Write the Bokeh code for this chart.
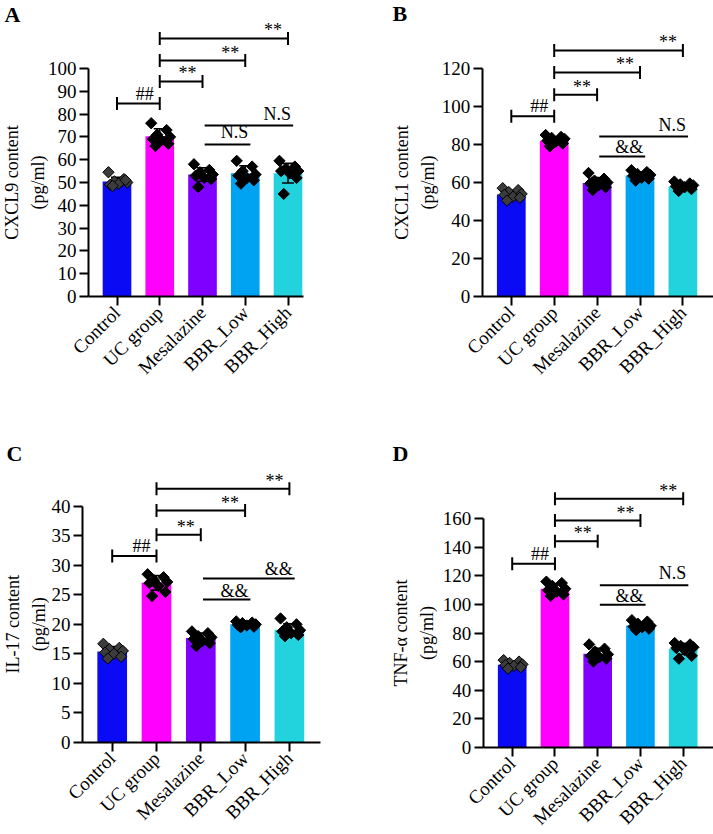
import numpy as np
from math import pi
from bokeh.plotting import figure
from bokeh.layouts import column, row
from bokeh.models import Range1d, FixedTicker, LinearAxis, Label, ColumnDataSource
from bokeh.embed import file_html
from bokeh.resources import INLINE
from bokeh.core.properties import value

# ---------------- data ----------------
categories = ["Control", "UC group", "Mesalazine", "BBR_Low", "BBR_High"]
bar_colors = ["#0A0AF5", "#FF00FF", "#7F00FF", "#00A2F2", "#22D3DE"]

# Panel A: CXCL9
cxcl9_means = [50.4, 70.3, 53.5, 54.1, 54.1]
cxcl9_points = [
    [54.5, 51.5, 50.5, 50.0, 49.0, 49.5, 51.0, 48.5],
    [76.0, 73.0, 71.0, 70.0, 69.0, 68.5, 67.0, 66.0],
    [58.0, 55.5, 54.5, 53.5, 53.0, 52.0, 51.5, 48.0],
    [59.5, 57.0, 55.0, 53.5, 53.0, 52.0, 51.0, 49.5],
    [59.5, 57.0, 56.0, 55.0, 55.0, 54.0, 52.0, 45.0],
]
cxcl9_ticks = [0, 10, 20, 30, 40, 50, 60, 70, 80, 90, 100]
cxcl9_sig = [(1, 4, 113.2, "**", "cap"), (1, 3, 103.5, "**", "cap"), (1, 2, 94.3, "**", "cap"),
             (0, 1, 84.6, "##", "cap"), (2, 4, 75.0, "N.S", "line"), (2, 3, 66.7, "N.S", "line")]

# Panel B: CXCL1
cxcl1_means = [53.7, 82.0, 59.8, 63.7, 57.9]
cxcl1_points = [
    [57.0, 56.0, 55.0, 54.0, 53.5, 52.5, 52.0, 50.5],
    [85.0, 84.0, 83.5, 83.0, 82.0, 81.5, 80.5, 79.0],
    [65.0, 62.0, 61.0, 60.0, 59.5, 58.5, 57.5, 56.0],
    [66.5, 65.5, 64.5, 64.0, 63.5, 62.5, 62.0, 61.0],
    [60.5, 59.5, 59.0, 58.5, 58.0, 57.5, 56.5, 55.5],
]
cxcl1_ticks = [0, 20, 40, 60, 80, 100, 120]
cxcl1_sig = [(1, 4, 129.5, "**", "cap"), (1, 3, 117.9, "**", "cap"), (1, 2, 106.2, "**", "cap"),
             (0, 1, 94.9, "##", "cap"), (2, 4, 84.2, "N.S", "line"), (2, 3, 73.7, "&&", "line")]

# Panel C: IL-17
il17_means = [15.4, 27.05, 17.7, 20.0, 19.1]
il17_points = [
    [16.7, 16.0, 15.8, 15.5, 15.2, 15.0, 14.5, 14.2],
    [28.5, 28.0, 27.5, 27.2, 27.0, 26.5, 25.5, 24.8],
    [18.8, 18.5, 18.0, 17.8, 17.5, 17.2, 16.8, 16.3],
    [20.5, 20.3, 20.2, 20.0, 19.9, 19.8, 19.6, 19.5],
    [21.0, 20.0, 19.5, 19.0, 18.8, 18.5, 18.2, 18.0],
]
il17_ticks = [0, 5, 10, 15, 20, 25, 30, 35, 40]
il17_sig = [(1, 4, 43.0, "**", "cap"), (1, 3, 39.3, "**", "cap"), (1, 2, 35.2, "**", "cap"),
            (0, 1, 31.6, "##", "cap"), (2, 4, 27.8, "&&", "line"), (2, 3, 24.2, "&&", "line")]

# Panel D: TNF-alpha
tnf_means = [57.7, 111.0, 65.4, 85.3, 68.9]
tnf_points = [
    [61.0, 60.0, 59.0, 58.0, 57.5, 57.0, 56.0, 55.0],
    [116.0, 115.0, 113.0, 111.0, 110.0, 109.0, 107.0, 106.0],
    [72.0, 69.0, 67.0, 65.0, 64.0, 63.0, 62.0, 60.0],
    [89.0, 88.0, 86.5, 85.0, 84.5, 84.0, 83.0, 82.0],
    [73.0, 72.0, 71.0, 70.0, 69.5, 68.0, 64.0, 62.0],
]
tnf_ticks = [0, 20, 40, 60, 80, 100, 120, 140, 160]
tnf_sig = [(1, 4, 174.0, "**", "cap"), (1, 3, 158.8, "**", "cap"), (1, 2, 144.3, "**", "cap"),
           (0, 1, 128.5, "##", "cap"), (2, 4, 113.5, "N.S", "line"), (2, 3, 99.75, "&&", "line")]

# ---------------- style / layout constants ----------------
FONT = "Liberation Serif"
JITTER = [-0.2, 0.16, -0.06, 0.24, -0.16, 0.04, 0.2, -0.1]
BAR_W = 0.67
TEXT_SHIFT = {"**": -8, "##": -10, "N.S": -12, "&&": -9}

# geometry in page pixels: figure box, y-axis x, y of 0, y of max, first category x, category step,
# x-axis end, letter (left, top), y-title centre x
GEO = {
    "A": dict(fig=(0, 0, 360, 420), axis=88, y0=296, ytop=68, cat0=116.5, step=42.75, xend=303,
              letter=(4, 1.5), title_x=24.5),
    "B": dict(fig=(360, 0, 353, 420), axis=481.7, y0=296, ytop=68, cat0=510.8, step=42.9, xend=713,
              letter=(392, 0), title_x=414),
    "C": dict(fig=(0, 420, 360, 414), axis=82, y0=741.7, ytop=506, cat0=111.7, step=44.3, xend=320,
              letter=(6, 440), title_x=25),
    "D": dict(fig=(360, 420, 353, 414), axis=482.7, y0=746.7, ytop=518.3, cat0=511.7, step=42.75, xend=713,
              letter=(392, 440), title_x=413.5),
}


def make_panel(letter, ytitle, ticks, means, points, sig, g):
    fx, fy, W, H = g["fig"]
    ymax = ticks[-1]
    k = (g["y0"] - g["ytop"]) / ymax

    def px2x(px):
        return (px - g["cat0"]) / g["step"]

    def py2y(py):
        return (g["y0"] - py) / k

    p = figure(width=W, height=H, x_range=Range1d(px2x(fx), px2x(fx + W)),
               y_range=Range1d(py2y(fy + H), py2y(fy)),
               output_backend="svg", toolbar_location=None, min_border=0,
               x_axis_type=None, y_axis_type=None)
    p.outline_line_color = None
    p.background_fill_color = "white"

    idx = list(range(len(categories)))
    # bars
    p.vbar(x=idx, top=means, width=BAR_W, bottom=0, fill_color=bar_colors, line_color=None)

    # error bars (mean +/- SD of the points)
    sds = [float(np.std(v, ddof=1)) for v in points]
    lo = [m - s for m, s in zip(means, sds)]
    hi = [m + s for m, s in zip(means, sds)]
    p.segment(x0=idx, y0=lo, x1=idx, y1=hi, line_color="black", line_width=1.6)
    p.segment(x0=[i - 0.14 for i in idx], y0=hi, x1=[i + 0.14 for i in idx], y1=hi,
              line_color="black", line_width=1.6)
    p.segment(x0=[i - 0.14 for i in idx], y0=lo, x1=[i + 0.14 for i in idx], y1=lo,
              line_color="black", line_width=1.6)

    # individual points
    for i, vals in enumerate(points):
        xs = [i + JITTER[j % len(JITTER)] for j in range(len(vals))]
        fill = "#3c3c3c" if i == 0 else "black"
        p.scatter(x=xs, y=vals, marker="square", angle=pi / 4, size=8,
                  fill_color=fill, line_color="black", line_width=1)

    # significance brackets
    cap_half = 6.5 / k
    hx0, hx1, hy = [], [], []
    vx, vy0, vy1 = [], [], []
    tx, ty, tt, txo, tyo = [], [], [], [], []
    for (a, b, yv, txt, kind) in sig:
        if kind == "cap":
            hx0.append(a); hx1.append(b); hy.append(yv)
            for c in (a, b):
                vx.append(c); vy0.append(yv - cap_half); vy1.append(yv + cap_half)
            tx.append(b); txo.append(-6)
        else:
            hx0.append(a + 0.05); hx1.append(b + 0.12); hy.append(yv)
            tx.append(b + 0.12); txo.append(-2)
        ty.append(yv); tt.append(txt)
        tyo.append(TEXT_SHIFT[txt])
    p.segment(x0=hx0, y0=hy, x1=hx1, y1=hy, line_color="black", line_width=2)
    p.segment(x0=vx, y0=vy0, x1=vx, y1=vy1, line_color="black", line_width=2)
    src = ColumnDataSource(dict(x=tx, y=ty, t=tt, xo=txo, yo=tyo))
    p.text(x="x", y="y", text="t", x_offset="xo", y_offset="yo", source=src,
           text_font=value(FONT), text_font_size=value("18px"), text_color="black",
           text_align="right", text_baseline="alphabetic")

    # axes
    yaxis = LinearAxis(fixed_location=px2x(g["axis"]), bounds=(0, ymax),
                       ticker=FixedTicker(ticks=ticks, minor_ticks=[]))
    xaxis = LinearAxis(fixed_location=0, bounds=(px2x(g["axis"]), px2x(g["xend"])),
                       ticker=FixedTicker(ticks=idx, minor_ticks=[]),
                       major_label_overrides={i: c for i, c in enumerate(categories)},
                       major_label_orientation=pi / 4)
    for ax in (yaxis, xaxis):
        ax.axis_line_width = 2
        ax.axis_line_color = "black"
        ax.major_tick_line_width = 2
        ax.major_tick_line_color = "black"
        ax.major_tick_out = 9
        ax.major_tick_in = 0
        ax.minor_tick_out = 0
        ax.minor_tick_in = 0
        ax.major_label_text_font = FONT
        ax.major_label_text_color = "black"
    yaxis.major_label_text_font_size = "19px"
    yaxis.major_label_standoff = 3
    xaxis.major_label_text_font_size = "19px"
    xaxis.major_label_standoff = 4
    p.add_layout(yaxis, "left")
    p.add_layout(xaxis, "below")

    # y-axis title
    p.add_layout(Label(x=px2x(g["title_x"]), y=ymax / 2, text=ytitle, angle=pi / 2,
                       text_align="center", text_baseline="middle", text_font=FONT,
                       text_font_size="18px", text_color="black", text_line_height=1.3))
    # panel letter
    lx, ly = g["letter"]
    p.add_layout(Label(x=px2x(lx), y=py2y(ly), text=letter, text_align="left",
                       text_baseline="top", text_font=FONT, text_font_style="bold",
                       text_font_size="22px", text_color="black"))
    return p


pA = make_panel("A", "CXCL9 content\n(pg/ml)", cxcl9_ticks, cxcl9_means, cxcl9_points, cxcl9_sig, GEO["A"])
pB = make_panel("B", "CXCL1 content\n(pg/ml)", cxcl1_ticks, cxcl1_means, cxcl1_points, cxcl1_sig, GEO["B"])
pC = make_panel("C", "IL-17 content\n(pg/ml)", il17_ticks, il17_means, il17_points, il17_sig, GEO["C"])
pD = make_panel("D", "TNF-\u03b1 content\n(pg/ml)", tnf_ticks, tnf_means, tnf_points, tnf_sig, GEO["D"])

layout = column(row(pA, pB), row(pC, pD))
open("out.html", "w").write(file_html(layout, INLINE, title="chart"))
